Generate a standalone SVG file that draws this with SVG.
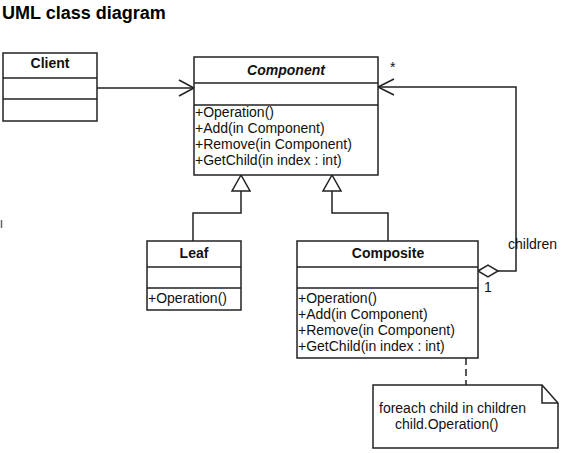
<svg xmlns="http://www.w3.org/2000/svg" width="577" height="453" viewBox="0 0 577 453">
<style>
.box{fill:#fff;stroke:#222;stroke-width:1.5}
.ln{fill:none;stroke:#222;stroke-width:1.5}
.t{font-family:"Liberation Sans",Arial,sans-serif;font-size:14px;fill:#111}
.b{font-weight:bold}
.c{text-anchor:middle}
</style>
<rect width="577" height="453" fill="#fff"/>
<text x="2" y="19" font-family="Liberation Sans, Arial, sans-serif" font-size="18" font-weight="bold" fill="#000">UML class diagram</text>
<line x1="1.5" y1="220" x2="1.5" y2="228" stroke="#666" stroke-width="1.5"/>
<g id="connectors">
<path class="ln" d="M97,88 H194"/>
<path class="ln" d="M179,80 L194,88 L179,96"/>
<path class="ln" d="M193,241 V213 H241 V191"/>
<polygon class="box" points="241,175 232,191 250,191"/>
<path class="ln" d="M388,241 V213 H332 V191"/>
<polygon class="box" points="332,175 323,191 341,191"/>
<path class="ln" d="M498,271 H516 V87 H378"/>
<path class="ln" d="M394,79 L378,87 L394,95"/>
<polygon class="box" points="478,271 488,265 498,271 488,277"/>
<text class="t" x="390" y="72">*</text>
<text class="t" x="508" y="249">children</text>
<text class="t" x="484" y="292">1</text>
<path class="ln" d="M466,358 V385" stroke-dasharray="7,4"/>
</g>
<g id="client">
<rect class="box" x="3" y="53" width="94" height="68"/>
<path class="ln" d="M3,78 H97 M3,99 H97"/>
<text class="t b c" x="50" y="68">Client</text>
</g>
<g id="component">
<rect class="box" x="194" y="57" width="184" height="118"/>
<path class="ln" d="M194,83 H378 M194,105 H378"/>
<text class="t b c" x="286" y="75" font-style="italic">Component</text>
<text class="t" x="195" y="117">+Operation()</text>
<text class="t" x="195" y="133">+Add(in Component)</text>
<text class="t" x="195" y="149">+Remove(in Component)</text>
<text class="t" x="195" y="165">+GetChild(in index : int)</text>
</g>
<g id="leaf">
<rect class="box" x="147" y="241" width="94" height="69"/>
<path class="ln" d="M147,267 H241 M147,288 H241"/>
<text class="t b c" x="194" y="258">Leaf</text>
<text class="t" x="148" y="303">+Operation()</text>
</g>
<g id="composite">
<rect class="box" x="297" y="241" width="181" height="117"/>
<path class="ln" d="M297,267 H478 M297,288 H478"/>
<text class="t b c" x="388" y="258">Composite</text>
<text class="t" x="298" y="303">+Operation()</text>
<text class="t" x="298" y="319">+Add(in Component)</text>
<text class="t" x="298" y="335">+Remove(in Component)</text>
<text class="t" x="298" y="351">+GetChild(in index : int)</text>
</g>
<g id="note">
<path class="box" d="M373,385 H542 L558,403 V448 H373 Z"/>
<path class="ln" d="M542,385 V403 H558"/>
<text class="t" x="379" y="413">foreach child in children</text>
<text class="t" x="395" y="429">child.Operation()</text>
</g>
</svg>
